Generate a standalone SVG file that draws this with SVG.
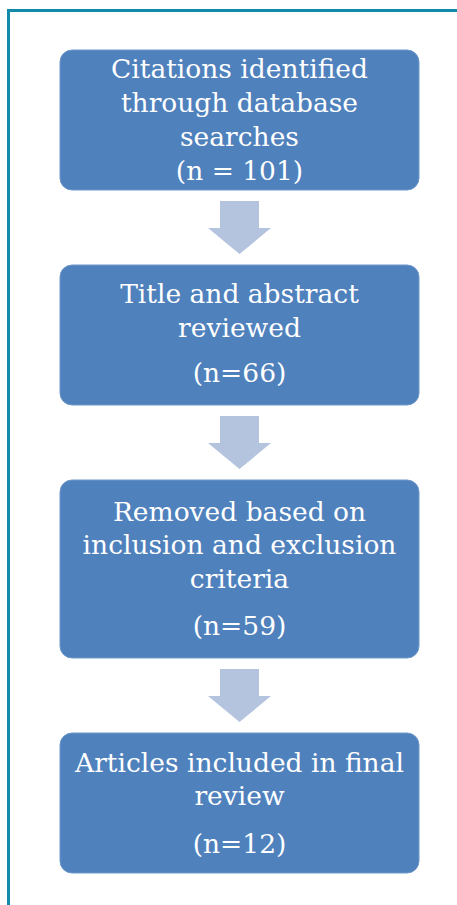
<svg xmlns="http://www.w3.org/2000/svg" width="457" height="905" viewBox="0 0 457 905">
<style>
.box{fill:#4F81BD;stroke:#6E97C9;stroke-width:1}
.arr{fill:#B4C3DE}
.t{font-family:"DejaVu Serif","Liberation Serif",serif;font-size:26.5px;fill:#FFFFFF;text-anchor:middle}
.frame{fill:none;stroke:#128AAA;stroke-width:3}
</style>
<rect width="457" height="905" fill="#FFFFFF"/>
<path class="frame" d="M8.5,910 L8.5,10.5 L462,10.5"/>
<g id="connectors">
<path class="arr" d="M220,201 H259 V228 H271 L239.5,254 L208,228 H220 Z"/>
<path class="arr" d="M220,416 H259 V443 H271 L239.5,469 L208,443 H220 Z"/>
<path class="arr" d="M220,669 H259 V696 H271 L239.5,722 L208,696 H220 Z"/>
</g>
<g id="node1">
<rect class="box" x="60" y="50" width="359" height="140" rx="12"/>
<text class="t" x="239.5" y="78">Citations identified</text>
<text class="t" x="239.5" y="112">through database</text>
<text class="t" x="239.5" y="146">searches</text>
<text class="t" x="239.5" y="180">(n = 101)</text>
</g>
<g id="node2">
<rect class="box" x="60" y="265" width="359" height="140" rx="12"/>
<text class="t" x="239.5" y="303">Title and abstract</text>
<text class="t" x="239.5" y="337">reviewed</text>
<text class="t" x="239.5" y="382">(n=66)</text>
</g>
<g id="node3">
<rect class="box" x="60" y="480" width="359" height="178" rx="12"/>
<text class="t" x="239.5" y="521">Removed based on</text>
<text class="t" x="239.5" y="554">inclusion and exclusion</text>
<text class="t" x="239.5" y="588">criteria</text>
<text class="t" x="239.5" y="635">(n=59)</text>
</g>
<g id="node4">
<rect class="box" x="60" y="733" width="359" height="140" rx="12"/>
<text class="t" x="239.5" y="772">Articles included in final</text>
<text class="t" x="239.5" y="805">review</text>
<text class="t" x="239.5" y="853">(n=12)</text>
</g>
</svg>
